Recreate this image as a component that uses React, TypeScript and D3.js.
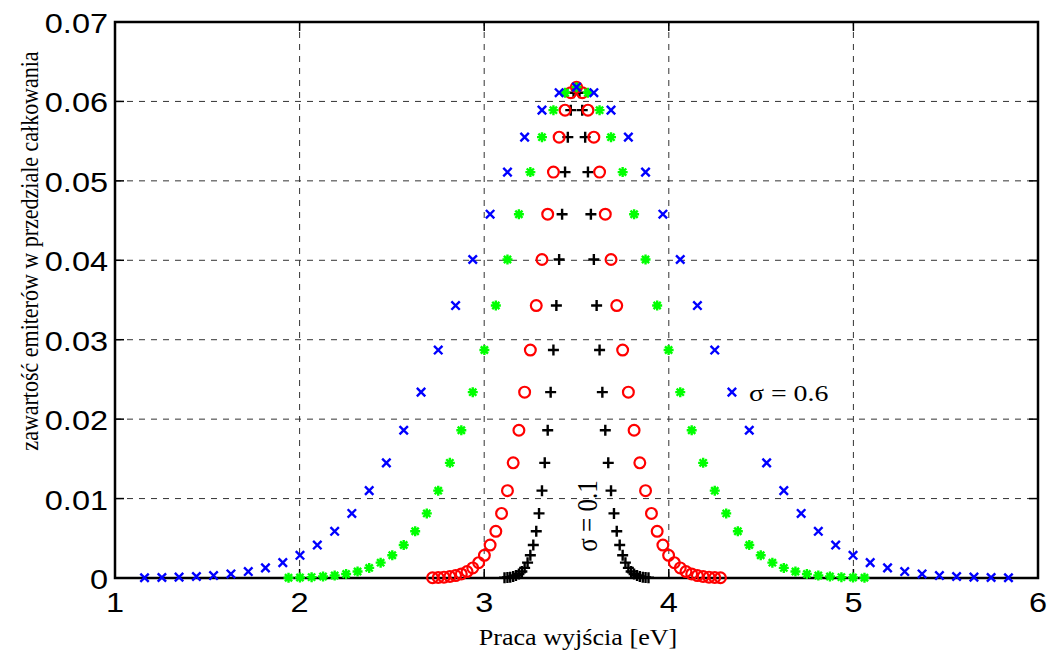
import React from 'react';
import * as d3 from 'd3';

// fraction of emitters per integration bin (same bins, scaled by sigma)
const fraction = [
  0.00003, 0.00006, 0.00011, 0.00019, 0.00031, 0.00051, 0.00081, 0.00127, 0.00193, 0.00286,
  0.00415, 0.00588, 0.00813, 0.0110, 0.0145, 0.0186, 0.0234, 0.0287, 0.0343, 0.0401,
  0.0458, 0.0511, 0.0555, 0.0589, 0.0611, 0.0618, 0.0611, 0.0589, 0.0555, 0.0511,
  0.0458, 0.0401, 0.0343, 0.0287, 0.0234, 0.0186, 0.0145, 0.0110, 0.00813, 0.00588,
  0.00415, 0.00286, 0.00193, 0.00127, 0.00081, 0.00051, 0.00031, 0.00019, 0.00011, 0.00006,
  0.00003,
];

const xSigma01 = [
  3.110, 3.126, 3.141, 3.157, 3.172, 3.188, 3.204, 3.219, 3.235, 3.250,
  3.266, 3.282, 3.297, 3.313, 3.328, 3.344, 3.360, 3.375, 3.391, 3.406,
  3.422, 3.438, 3.453, 3.469, 3.484, 3.500, 3.516, 3.531, 3.547, 3.562,
  3.578, 3.594, 3.609, 3.625, 3.640, 3.656, 3.672, 3.687, 3.703, 3.718,
  3.734, 3.750, 3.765, 3.781, 3.796, 3.812, 3.828, 3.843, 3.859, 3.874,
  3.890,
];

const xSigma02 = [
  2.720, 2.751, 2.782, 2.814, 2.845, 2.876, 2.907, 2.938, 2.970, 3.001,
  3.032, 3.063, 3.094, 3.126, 3.157, 3.188, 3.219, 3.250, 3.282, 3.313,
  3.344, 3.375, 3.406, 3.438, 3.469, 3.500, 3.531, 3.562, 3.594, 3.625,
  3.656, 3.687, 3.718, 3.750, 3.781, 3.812, 3.843, 3.874, 3.906, 3.937,
  3.968, 3.999, 4.030, 4.062, 4.093, 4.124, 4.155, 4.186, 4.218, 4.249,
  4.280,
];

const xSigma04 = [
  1.940, 2.002, 2.065, 2.127, 2.190, 2.252, 2.314, 2.377, 2.439, 2.502,
  2.564, 2.626, 2.689, 2.751, 2.814, 2.876, 2.938, 3.001, 3.063, 3.126,
  3.188, 3.250, 3.313, 3.375, 3.438, 3.500, 3.562, 3.625, 3.687, 3.750,
  3.812, 3.874, 3.937, 3.999, 4.062, 4.124, 4.186, 4.249, 4.311, 4.374,
  4.436, 4.498, 4.561, 4.623, 4.686, 4.748, 4.810, 4.873, 4.935, 4.998,
  5.060,
];

const xSigma06 = [
  1.160, 1.254, 1.347, 1.441, 1.534, 1.628, 1.722, 1.815, 1.909, 2.002,
  2.096, 2.190, 2.283, 2.377, 2.470, 2.564, 2.658, 2.751, 2.845, 2.938,
  3.032, 3.126, 3.219, 3.313, 3.406, 3.500, 3.594, 3.687, 3.781, 3.874,
  3.968, 4.062, 4.155, 4.249, 4.342, 4.436, 4.530, 4.623, 4.717, 4.810,
  4.904, 4.998, 5.091, 5.185, 5.278, 5.372, 5.466, 5.559, 5.653, 5.746,
  5.840,
];

const xTicks = [1, 2, 3, 4, 5, 6];
const yTicks = [0, 0.01, 0.02, 0.03, 0.04, 0.05, 0.06, 0.07];
const xLabel = 'Praca wyjścia [eV]';
const yLabel = 'zawartość emiterów w przedziale całkowania';
const sigmaLow = 'σ = 0.1';
const sigmaHigh = 'σ = 0.6';

const W = 1047;
const H = 651;
const stretch = 1.16;

const plusPath = (s: number) => `M${-s},0H${s}M0,${-s}V${s}`;
const timesPath = (s: number) => `M${-s},${-s}L${s},${s}M${-s},${s}L${s},${-s}`;
const starPath = () => plusPath(5) + timesPath(3.6);

export default function App() {
  const x = d3.scaleLinear().domain([1, 6]).range([115, 1038]);
  const y = d3.scaleLinear().domain([0, 0.07]).range([578, 22]);
  const [x0, x1] = x.range();
  const [y0, y1] = y.range();

  const series = [
    { xs: xSigma01, kind: 'plus', color: '#000000' },
    { xs: xSigma02, kind: 'circle', color: '#ff0000' },
    { xs: xSigma04, kind: 'star', color: '#00ff00' },
    { xs: xSigma06, kind: 'times', color: '#0000ff' },
  ];

  const marker = (kind: string, color: string, key: string, cx: number, cy: number) => {
    if (kind === 'circle')
      return <circle key={key} cx={cx} cy={cy} r={5.4} fill="none" stroke={color} strokeWidth={2.2} />;
    const d = kind === 'plus' ? plusPath(5.5) : kind === 'times' ? timesPath(4.2) : starPath();
    return <path key={key} transform={`translate(${cx},${cy})`} d={d} fill="none" stroke={color} strokeWidth={2.4} />;
  };

  const tickFont = { fontFamily: "'Liberation Sans', Arial, sans-serif", fontSize: 28 };
  const serif = { fontFamily: "'Liberation Serif', 'Times New Roman', serif" };

  return (
    <svg width={W} height={H} style={{ position: 'absolute', left: 0, top: 0, background: '#fff' }}>
      <rect width={W} height={H} fill="#fff" />
      {/* grid */}
      <g stroke="#333" strokeWidth={1} strokeDasharray="6,6">
        {xTicks.slice(1, -1).map(v => (
          <line key={'gx' + v} x1={x(v)} x2={x(v)} y1={y0} y2={y1} />
        ))}
        {yTicks.slice(1, -1).map(v => (
          <line key={'gy' + v} x1={x0} x2={x1} y1={y(v)} y2={y(v)} />
        ))}
      </g>
      {/* ticks */}
      <g stroke="#000" strokeWidth={1.5}>
        {xTicks.map(v => (
          <g key={'tx' + v}>
            <line x1={x(v)} x2={x(v)} y1={y0} y2={y0 - 9} />
            <line x1={x(v)} x2={x(v)} y1={y1} y2={y1 + 9} />
          </g>
        ))}
        {yTicks.map(v => (
          <g key={'ty' + v}>
            <line x1={x0} x2={x0 + 9} y1={y(v)} y2={y(v)} />
            <line x1={x1} x2={x1 - 9} y1={y(v)} y2={y(v)} />
          </g>
        ))}
      </g>
      <rect x={x0} y={y1} width={x1 - x0} height={y0 - y1} fill="none" stroke="#000" strokeWidth={2.5} />
      {/* data */}
      {series.map((s, si) => (
        <g key={'s' + si}>
          {s.xs.map((v, i) => marker(s.kind, s.color, si + '-' + i, x(v), y(fraction[i])))}
        </g>
      ))}
      {/* tick labels */}
      {xTicks.map(v => (
        <text key={'lx' + v} transform={`translate(${x(v)},612) scale(${stretch},1)`} textAnchor="middle" style={tickFont}>
          {v}
        </text>
      ))}
      {yTicks.map(v => (
        <text key={'ly' + v} transform={`translate(108,${y(v) + 11}) scale(${stretch},1)`} textAnchor="end" style={tickFont}>
          {v === 0 ? '0' : v.toFixed(2)}
        </text>
      ))}
      {/* axis labels */}
      <text transform={`translate(578,645) scale(${stretch},1)`} textAnchor="middle" style={{ ...serif, fontSize: 22.5 }}>
        {xLabel}
      </text>
      <text transform={`translate(38,251) scale(${stretch},1) rotate(-90)`} textAnchor="middle" style={{ ...serif, fontSize: 22 }}>
        {yLabel}
      </text>
      {/* annotations */}
      <text transform={`translate(749,401) scale(${stretch},1)`} style={{ ...serif, fontSize: 24 }}>
        {sigmaHigh}
      </text>
      <text transform={`translate(597,516) scale(${stretch},1) rotate(-90)`} textAnchor="middle" style={{ ...serif, fontSize: 25 }}>
        {sigmaLow}
      </text>
    </svg>
  );
}
